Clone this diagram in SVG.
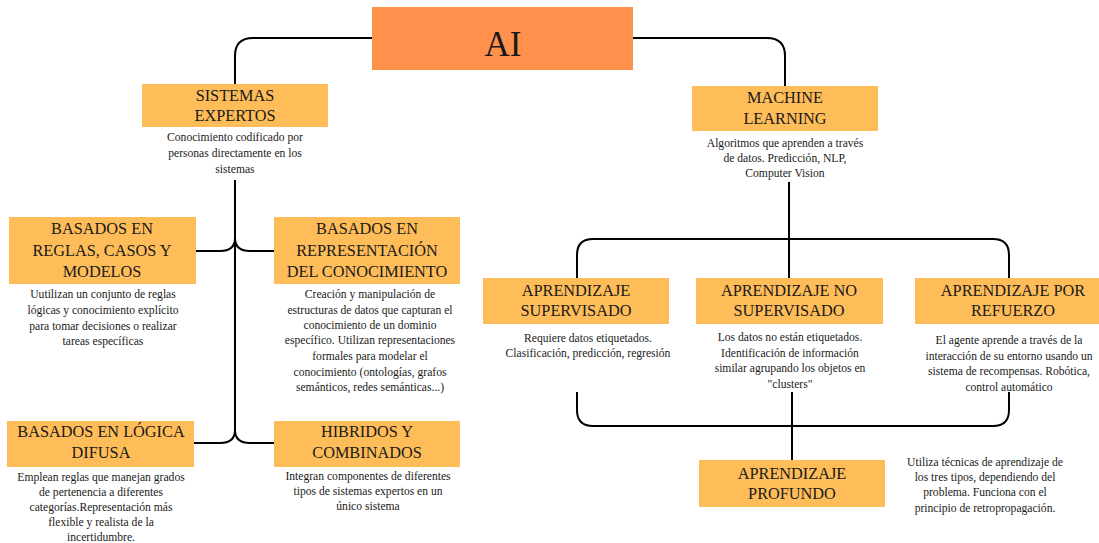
<svg xmlns="http://www.w3.org/2000/svg" width="1099" height="543" viewBox="0 0 1099 543">
<style>
text{font-family:'Liberation Serif','DejaVu Serif',serif;fill:#1a1a1a;text-anchor:middle}
.h{font-size:16.3px}
.d{font-size:11.6px}
.box{fill:#FFBD59}
.c{fill:none;stroke:#000;stroke-width:2}
</style>
<rect width="1099" height="543" fill="#fff"/>
<g id="connectors">
<path class="c" d="M372 38 H253 Q235 38 235 56 V84"/>
<path class="c" d="M633 38 H767 Q785 38 785 56 V86"/>
<path class="c" d="M235 180 V432"/>
<path class="c" d="M196 251 H220 C230 251 235 246 235 238"/>
<path class="c" d="M274 251 H250 C240 251 235 246 235 238"/>
<path class="c" d="M194 443 H220 C230 443 235 438 235 430"/>
<path class="c" d="M274 443 H250 C240 443 235 438 235 430"/>
<path class="c" d="M789 182 V278"/>
<path class="c" d="M577 278 V255 Q577 239 593 239 H993 Q1009 239 1009 255 V278"/>
<path class="c" d="M577 392 V410 Q577 426 593 426 H993 Q1009 426 1009 410 V392"/>
<path class="c" d="M792 392 V460"/>
</g>
<g id="ai">
<rect x="372" y="7" width="261" height="63" fill="#FF914D"/>
<text x="503" y="56" font-size="35">AI</text>
</g>
<g id="sistemas-expertos">
<rect class="box" x="142" y="84" width="186" height="43"/>
<text class="h" x="235" y="101">SISTEMAS</text>
<text class="h" x="235" y="121">EXPERTOS</text>
<text class="d" x="235" y="141">Conocimiento codificado por</text>
<text class="d" x="235" y="157">personas directamente en los</text>
<text class="d" x="235" y="173">sistemas</text>
</g>
<g id="machine-learning">
<rect class="box" x="692" y="86" width="186" height="45"/>
<text class="h" x="785" y="103">MACHINE</text>
<text class="h" x="785" y="124">LEARNING</text>
<text class="d" x="785" y="147">Algoritmos que aprenden a través</text>
<text class="d" x="785" y="162">de datos. Predicción, NLP,</text>
<text class="d" x="785" y="177">Computer Vision</text>
</g>
<g id="reglas">
<rect class="box" x="9" y="217" width="187" height="67"/>
<text class="h" x="102" y="234">BASADOS EN</text>
<text class="h" x="102" y="256">REGLAS, CASOS Y</text>
<text class="h" x="102" y="277">MODELOS</text>
<text class="d" x="103" y="298">Uutilizan un conjunto de reglas</text>
<text class="d" x="103" y="314">lógicas y conocimiento explícito</text>
<text class="d" x="103" y="330">para tomar decisiones o realizar</text>
<text class="d" x="103" y="345">tareas específicas</text>
</g>
<g id="representacion">
<rect class="box" x="274" y="217" width="186" height="67"/>
<text class="h" x="367" y="234">BASADOS EN</text>
<text class="h" x="367" y="256">REPRESENTACIÓN</text>
<text class="h" x="367" y="277">DEL CONOCIMIENTO</text>
<text class="d" x="370" y="298">Creación y manipulación de</text>
<text class="d" x="370" y="314">estructuras de datos que capturan el</text>
<text class="d" x="370" y="329">conocimiento de un dominio</text>
<text class="d" x="370" y="344">específico. Utilizan representaciones</text>
<text class="d" x="370" y="360">formales para modelar el</text>
<text class="d" x="370" y="376">conocimiento (ontologías, grafos</text>
<text class="d" x="370" y="391">semánticos, redes semánticas...)</text>
</g>
<g id="logica-difusa">
<rect class="box" x="7" y="421" width="187" height="46"/>
<text class="h" x="101" y="437">BASADOS EN LÓGICA</text>
<text class="h" x="101" y="458">DIFUSA</text>
<text class="d" x="101" y="481">Emplean reglas que manejan grados</text>
<text class="d" x="101" y="496">de pertenencia a diferentes</text>
<text class="d" x="101" y="511">categorías.Representación más</text>
<text class="d" x="101" y="526">flexible y realista de la</text>
<text class="d" x="101" y="541">incertidumbre.</text>
</g>
<g id="hibridos">
<rect class="box" x="274" y="421" width="186" height="46"/>
<text class="h" x="367" y="437">HIBRIDOS Y</text>
<text class="h" x="367" y="458">COMBINADOS</text>
<text class="d" x="368" y="480">Integran componentes de diferentes</text>
<text class="d" x="368" y="495">tipos de sistemas expertos en un</text>
<text class="d" x="368" y="510">único sistema</text>
</g>
<g id="supervisado">
<rect class="box" x="483" y="278" width="186" height="46"/>
<text class="h" x="576" y="296">APRENDIZAJE</text>
<text class="h" x="576" y="316">SUPERVISADO</text>
<text class="d" x="588" y="342">Requiere datos etiquetados.</text>
<text class="d" x="588" y="357">Clasificación, predicción, regresión</text>
</g>
<g id="no-supervisado">
<rect class="box" x="696" y="278" width="187" height="46"/>
<text class="h" x="789" y="296">APRENDIZAJE NO</text>
<text class="h" x="789" y="316">SUPERVISADO</text>
<text class="d" x="790" y="341">Los datos no están etiquetados.</text>
<text class="d" x="790" y="357">Identificación de información</text>
<text class="d" x="790" y="372">similar agrupando los objetos en</text>
<text class="d" x="790" y="388">"clusters"</text>
</g>
<g id="refuerzo">
<rect class="box" x="915" y="278" width="184" height="46"/>
<text class="h" x="1013" y="296">APRENDIZAJE POR</text>
<text class="h" x="1013" y="316">REFUERZO</text>
<text class="d" x="1009" y="344">El agente aprende a través de la</text>
<text class="d" x="1009" y="360">interacción de su entorno usando un</text>
<text class="d" x="1009" y="375">sistema de recompensas. Robótica,</text>
<text class="d" x="1009" y="391">control automático</text>
</g>
<g id="profundo">
<rect class="box" x="699" y="460" width="186" height="47"/>
<text class="h" x="792" y="479">APRENDIZAJE</text>
<text class="h" x="792" y="499">PROFUNDO</text>
<text class="d" x="985" y="466">Utiliza técnicas de aprendizaje de</text>
<text class="d" x="985" y="481">los tres tipos, dependiendo del</text>
<text class="d" x="985" y="496">problema. Funciona con el</text>
<text class="d" x="985" y="512">principio de retropropagación.</text>
</g>
</svg>
